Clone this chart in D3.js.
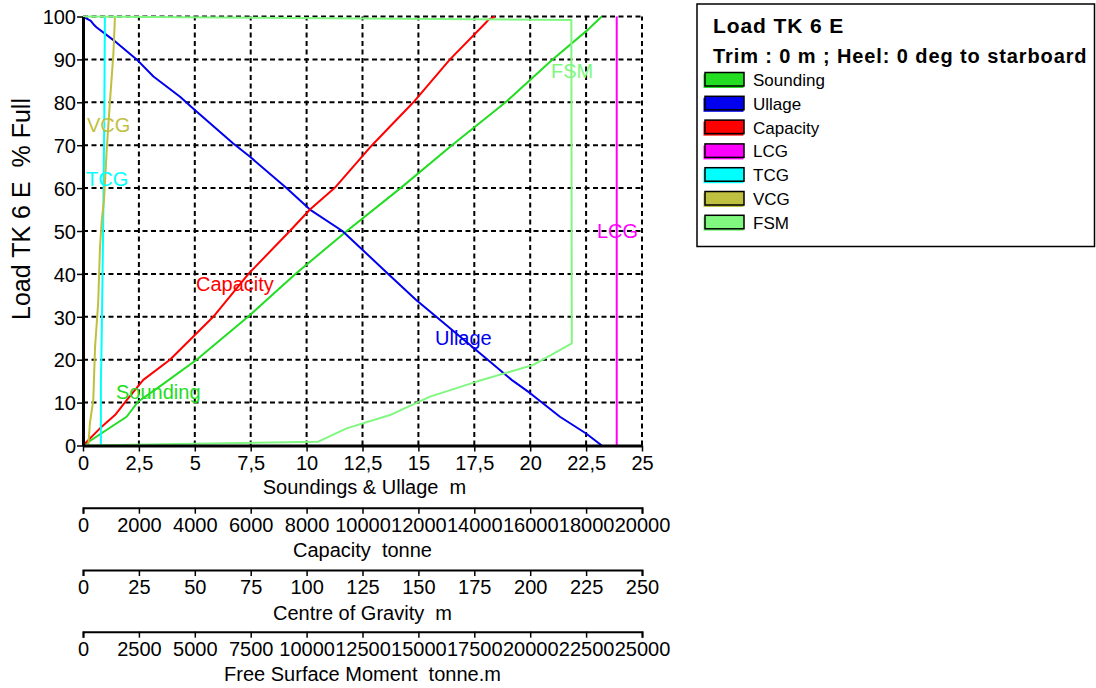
<!DOCTYPE html>
<html>
<head>
<meta charset="utf-8">
<script src="https://cdn.jsdelivr.net/npm/d3@7"></script>
<style>
  html, body { margin: 0; padding: 0; background: #fff; }
  svg { display: block; font-family: Arial, "Liberation Sans", sans-serif; }
  text { white-space: pre; }
</style>
</head>
<body>
<svg id="chart" width="1096" height="688"></svg>
<script>
// ---- Tank calibration data: [value, percent full] ----
const soundingData = [[0,0],[1.95,6.7],[2.46,10.2],[3.5,14],[5.08,20],[7.38,30],[9.5,40],[11.8,50],[14.2,60],[16.5,70],[18.9,80],[21.0,90],[22.6,97],[22.8,98],[23.2,100]];
const ullageData   = [[0,100],[0.35,99],[0.5,98],[0.6,97.5],[1.36,94.5],[2.4,90],[3.15,86],[4.34,81.3],[5.0,78.2],[6.72,70.4],[7.47,67.3],[9.1,60],[10.15,55],[11.6,50],[13.65,40],[14.9,33.9],[15.8,30],[18.1,20],[19.17,15.3],[20.0,12.2],[21.33,6.7],[22.5,2.8],[23.2,0]];
const capacityData = [[0,0],[607,4],[1145,7.1],[1564,10.6],[2157,15.3],[3110,20],[4660,30],[5920,40],[7400,50],[8120,55],[9000,60],[10340,70],[11820,80],[13130,90],[14420,98.6],[14500,99.2],[14740,100]];
const lcgData      = [[238.7,0],[238.7,100]];
const tcgData      = [[8.0,0],[8.0,15],[8.2,20],[8.35,25],[9.0,50],[9.5,75],[9.8,100]];
const vcgData      = [[2.4,0],[3.1,5.3],[4.6,10.6],[5.4,23],[6.8,33.4],[7.6,46.3],[8.4,52.5],[9.4,57.2],[10.6,68.9],[12.1,80.5],[13.6,91.4],[14.3,100]];
const fsmData      = [[0,0],[10520,0.9],[11790,4],[13730,7.1],[15520,11.4],[17610,14.9],[20140,18.8],[21860,23.8],[21840,99.2],[0,100]];

// ---- Axis ticks ----
const pctTicks      = [0,10,20,30,40,50,60,70,80,90,100];
const soundTicks    = [0,2.5,5,7.5,10,12.5,15,17.5,20,22.5,25];
const capacityTicks = [0,2000,4000,6000,8000,10000,12000,14000,16000,18000,20000];
const cogTicks      = [0,25,50,75,100,125,150,175,200,225,250];
const fsmTicks      = [0,2500,5000,7500,10000,12500,15000,17500,20000,22500,25000];

const seriesNames  = ["Sounding","Ullage","Capacity","LCG","TCG","VCG","FSM"];
const seriesColors = ["#22dd22","#0000ee","#ff0000","#ff00ff","#00ffff","#bfbf40","#80f880"];

const svg = d3.select("#chart");
const L = 83, R = 642, T = 16.5, B = 445.5;

const y      = d3.scaleLinear([0,100],[B,T]);
const xSound = d3.scaleLinear([0,25],[L,R]);
const xCap   = d3.scaleLinear([0,20000],[L,R]);
const xCog   = d3.scaleLinear([0,250],[L,R]);
const xFsm   = d3.scaleLinear([0,25000],[L,R]);

const comma = d => String(d).replace(".", ",");

// dashed grid
const grid = svg.append("g").attr("stroke","#000").attr("stroke-width",2).attr("stroke-dasharray","5,3.5");
soundTicks.slice(1).forEach(t => grid.append("line").attr("x1",xSound(t)).attr("x2",xSound(t)).attr("y1",B).attr("y2",T));
pctTicks.slice(1).forEach(t => grid.append("line").attr("x1",L).attr("x2",R).attr("y1",y(t)).attr("y2",y(t)));

// curves, each against its own horizontal scale
const curves = [
  {data: soundingData, x: xSound},
  {data: ullageData,   x: xSound},
  {data: capacityData, x: xCap},
  {data: lcgData,      x: xCog},
  {data: tcgData,      x: xCog},
  {data: vcgData,      x: xCog},
  {data: fsmData,      x: xFsm}
];
curves.forEach((c, i) => {
  const line = d3.line().x(d => c.x(d[0])).y(d => y(d[1]));
  svg.append("path").datum(c.data).attr("d", line)
    .attr("fill","none").attr("stroke", seriesColors[i]).attr("stroke-width",2).attr("stroke-linejoin","round");
});

// in-plot curve labels
const labels = [
  {t:"Sounding", x:116, y:399, c:0},
  {t:"Ullage",   x:435, y:345, c:1},
  {t:"Capacity", x:196, y:291, c:2},
  {t:"LCG",      x:597, y:238, c:3},
  {t:"TCG",      x:86,  y:186, c:4},
  {t:"VCG",      x:87,  y:132, c:5},
  {t:"FSM",      x:551, y:78,  c:6}
];
labels.forEach(l => svg.append("text").attr("x",l.x).attr("y",l.y).attr("font-size",20)
  .attr("fill",seriesColors[l.c]).text(l.t));

// axes
function styleAxis(g, w) {
  g.selectAll(".domain").attr("stroke","#000").attr("stroke-width",w);
  g.selectAll(".tick line").attr("stroke","#000").attr("stroke-width",1.5);
  g.selectAll(".tick text").attr("font-size",20).attr("font-family","Arial, 'Liberation Sans', sans-serif").attr("fill","#000");
}
const yAx = svg.append("g").attr("transform",`translate(${L},0)`)
  .call(d3.axisLeft(y).tickValues(pctTicks).tickSize(6).tickSizeOuter(0).tickPadding(1));
styleAxis(yAx, 3);
yAx.selectAll(".tick text").attr("dy","0.36em");

const xAx = svg.append("g").attr("transform",`translate(0,${B})`)
  .call(d3.axisBottom(xSound).tickValues(soundTicks).tickFormat(comma).tickSize(6).tickSizeOuter(0).tickPadding(4));
styleAxis(xAx, 3);

const extra = [
  {scale:xCap, ticks:capacityTicks, yPos:507.7, title:"Capacity  tonne"},
  {scale:xCog, ticks:cogTicks,      yPos:570,   title:"Centre of Gravity  m"},
  {scale:xFsm, ticks:fsmTicks,      yPos:631.7, title:"Free Surface Moment  tonne.m"}
];
extra.forEach(a => {
  const g = svg.append("g").attr("transform",`translate(0,${a.yPos})`)
    .call(d3.axisBottom(a.scale).tickValues(a.ticks).tickFormat(d3.format("d")).tickSize(6).tickSizeOuter(6).tickPadding(4));
  styleAxis(g, 2);
  svg.append("text").attr("x",(L+R)/2).attr("y",a.yPos+49.5).attr("text-anchor","middle")
    .attr("font-size",20).text(a.title);
});
svg.append("text").attr("x",(L+R)/2+2).attr("y",494).attr("text-anchor","middle")
  .attr("font-size",20).text("Soundings & Ullage  m");

svg.append("text").attr("transform","translate(30,209) rotate(-90)").attr("text-anchor","middle")
  .attr("font-size",25).text("Load TK 6 E  % Full");

// legend
const lg = svg.append("g");
lg.append("rect").attr("x",697).attr("y",4).attr("width",397.5).attr("height",242.5)
  .attr("fill","#fff").attr("stroke","#000").attr("stroke-width",1.5);
lg.append("text").attr("x",713).attr("y",33).attr("font-size",21).attr("font-weight","bold")
  .attr("letter-spacing",0.9).text("Load TK 6 E");
lg.append("text").attr("x",713).attr("y",63).attr("font-size",20).attr("font-weight","bold")
  .attr("letter-spacing",0.9).text("Trim : 0 m ; Heel: 0 deg to starboard");
seriesNames.forEach((n, i) => {
  const cy = 80 + i * 23.8;
  lg.append("rect").attr("x",703.5).attr("y",cy-6).attr("width",40).attr("height",14).attr("fill",seriesColors[i]);
  lg.append("rect").attr("x",705).attr("y",cy-7.5).attr("width",39).attr("height",13.5)
    .attr("fill",seriesColors[i]).attr("stroke","#000").attr("stroke-width",1.5);
  lg.append("text").attr("x",753).attr("y",cy+6).attr("font-size",17).text(n);
});
</script>
</body>
</html>
